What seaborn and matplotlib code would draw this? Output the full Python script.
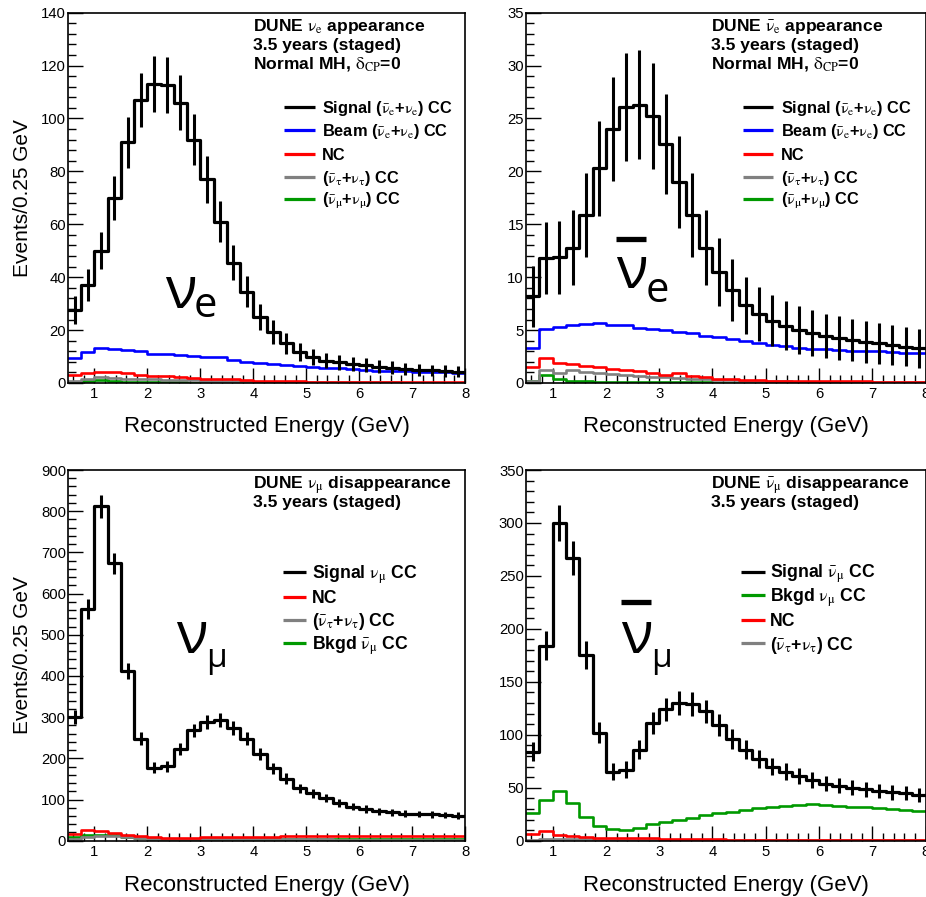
import numpy as np
import matplotlib
matplotlib.use("Agg")
import matplotlib.pyplot as plt
from matplotlib.lines import Line2D
from matplotlib.ticker import MultipleLocator
import seaborn as sns

# ---------------- data (events per 0.25 GeV bin, 0.5 - 8 GeV) ----------------
bin_lo, bin_hi, bin_w = 0.5, 8.0, 0.25

# nu_e appearance (top left)
sig_nue = [27.5, 37, 50, 70, 91, 107, 113, 112.5, 106, 92, 77, 61, 45.5, 34.5, 25,
           19.3, 15, 11.8, 9.8, 8.5, 7.8, 7.3, 6.7, 6.2, 5.8, 5.4, 5.0, 4.8, 4.5, 4.2]
beam_nue = [9.4, 11.9, 13.2, 12.9, 12.5, 12.0, 11.1, 11.0, 10.6, 10.1, 9.9, 9.7, 8.6, 8.1, 7.6,
            7.1, 6.7, 6.3, 6.1, 5.8, 5.5, 5.3, 4.9, 4.6, 4.5, 4.4, 4.3, 4.1, 4.0, 3.7]
nc_nue = [3.0, 3.9, 4.3, 4.0, 3.7, 3.2, 2.8, 2.6, 2.2, 1.9, 1.5, 1.4, 1.4, 1.2, 0.9,
          0.8, 0.7, 0.6, 0.55, 0.5, 0.45, 0.4, 0.4, 0.35, 0.3, 0.3, 0.3, 0.25, 0.25, 0.2]
tau_nue = [0.9, 1.7, 2.1, 1.9, 1.7, 1.5, 1.4, 1.3, 1.2, 1.0, 0.9, 0.8, 0.7, 0.6, 0.5,
           0.45, 0.4, 0.35, 0.3, 0.3, 0.25, 0.25, 0.2, 0.2, 0.2, 0.15, 0.15, 0.15, 0.1, 0.1]
numu_nue = [0.3, 0.8, 1.2, 0.7, 0.4, 0.3, 0.25, 0.2, 0.2, 0.15, 0.15, 0.1, 0.1, 0.1, 0.1,
            0.08, 0.08, 0.08, 0.06, 0.06, 0.06, 0.05, 0.05, 0.05, 0.05, 0.05, 0.04, 0.04, 0.04, 0.04]

# anti-nu_e appearance (top right)
sig_nuebar = [8.2, 11.8, 11.9, 12.8, 15.9, 20.3, 24.0, 26.1, 26.3, 25.2, 22.6, 19.0, 15.9, 12.8, 10.5,
              8.8, 7.35, 6.5, 5.9, 5.4, 5.0, 4.7, 4.45, 4.25, 4.05, 3.9, 3.75, 3.6, 3.43, 3.27]
beam_nuebar = [3.3, 5.1, 5.3, 5.5, 5.6, 5.65, 5.5, 5.45, 5.2, 5.1, 5.0, 4.85, 4.7, 4.4, 4.35,
               4.2, 3.95, 3.8, 3.6, 3.45, 3.35, 3.25, 3.2, 3.1, 3.05, 3.05, 3.0, 2.9, 2.85, 2.8]
nc_nuebar = [1.5, 2.4, 1.9, 1.8, 1.6, 1.5, 1.35, 1.25, 1.1, 0.9, 0.8, 0.95, 0.7, 0.55, 0.4,
             0.35, 0.25, 0.3, 0.2, 0.2, 0.2, 0.18, 0.18, 0.15, 0.15, 0.15, 0.12, 0.12, 0.1, 0.1]
tau_nuebar = [0.15, 1.2, 0.9, 1.2, 1.0, 0.9, 0.85, 0.75, 0.7, 0.6, 0.55, 0.5, 0.4, 0.35, 0.3,
              0.25, 0.2, 0.2, 0.15, 0.15, 0.12, 0.12, 0.1, 0.1, 0.1, 0.08, 0.08, 0.08, 0.06, 0.06]
numu_nuebar = [0.2, 0.75, 0.35, 0.2, 0.15, 0.1, 0.1, 0.08, 0.08, 0.06, 0.06, 0.05, 0.05, 0.05, 0.04,
               0.04, 0.04, 0.03, 0.03, 0.03, 0.03, 0.03, 0.02, 0.02, 0.02, 0.02, 0.02, 0.02, 0.02, 0.02]

# nu_mu disappearance (bottom left)
sig_numu = [301, 562, 812, 673, 412, 247, 177, 181, 223, 268, 289, 293, 273, 247, 210,
            176, 151, 127, 115, 103, 91, 83, 77, 72, 69, 66, 65, 64, 62, 61]
nc_numu = [17, 27, 23, 19, 15, 11, 8, 7, 7, 7, 8, 8, 9, 9, 10,
           10, 11, 11, 11, 12, 12, 12, 12, 12, 12, 12, 12, 12, 11, 11]
tau_numu = [4, 8, 12, 11, 8, 6, 4, 3, 3, 3, 3, 3, 3, 3, 3,
            3, 3, 3, 3, 3, 2, 2, 2, 2, 2, 2, 2, 2, 2, 2]
bkgd_numubar = [8, 13, 15, 13, 10, 6, 4, 3, 3, 3, 3, 4, 4, 4, 4,
                4, 4, 4, 4, 4, 4, 4, 4, 4, 3, 3, 3, 3, 3, 3]

# anti-nu_mu disappearance (bottom right)
sig_numubar = [84, 184, 300, 267, 175, 102, 65, 67, 86, 111, 124, 130, 129, 122, 109,
               96, 86, 77, 70, 65, 61, 57, 54, 52, 50, 48.5, 47, 45.6, 44.7, 43]
bkgd_numu = [26, 38, 47, 36, 22, 14, 11, 10.4, 12.3, 15.4, 18, 19.5, 21.7, 24, 26,
             27, 28.6, 30.5, 32, 33, 33.7, 34.3, 33.7, 33, 32, 31.5, 30.5, 29.6, 28.6, 28]
nc_numubar = [6, 9, 5, 4, 3.5, 3, 3, 2.5, 2.5, 2.5, 2, 2, 1.5, 1.5, 1.2,
              1, 1, 1, 1, 0.8, 0.8, 0.8, 0.7, 0.7, 0.6, 0.6, 0.6, 0.5, 0.5, 0.5]
tau_numubar = [0.5, 1.5, 2, 2, 1.5, 1, 1, 1, 1, 1, 0.8, 0.8, 0.8, 0.7, 0.7,
               0.6, 0.6, 0.6, 0.5, 0.5, 0.5, 0.5, 0.4, 0.4, 0.4, 0.4, 0.4, 0.3, 0.3, 0.3]

edges = np.arange(bin_lo, bin_hi + bin_w / 2, bin_w)
centers = 0.5 * (edges[:-1] + edges[1:])
edge_list = [float(e) for e in edges]

# ---------------- style ----------------
sns.set_theme(style="white")
plt.rcParams["font.family"] = ["Liberation Sans", "DejaVu Sans"]
plt.rcParams["mathtext.fontset"] = "stix"

BLACK, BLUE, RED, GREY, GREEN = "#000000", "#0000ff", "#ff0000", "#808080", "#009900"
BIG_FONT = ["Liberation Sans Narrow", "Open Sans", "DejaVu Sans"]

W, H = 926, 897
fig = plt.figure(figsize=(W / 100, H / 100), dpi=100)
fig.patch.set_facecolor("white")


def fx(px):
    return px / W


def fy(py):
    return 1 - py / H


def make_ax(x0, x1, y0, y1):
    ax = fig.add_axes([fx(x0), fy(y1), (x1 - x0) / W, (y1 - y0) / H])
    ax.set_facecolor("white")
    return ax


def hist(ax, vals, color, lw=1.9):
    sns.histplot(x=list(centers), weights=list(vals), bins=edge_list, element="step",
                 fill=False, color=color, linewidth=lw, ax=ax)


def signal(ax, vals):
    hist(ax, vals, BLACK, 2.3)
    v = np.asarray(vals, dtype=float)
    ax.errorbar(centers, v, yerr=np.sqrt(v), fmt="none", ecolor=BLACK,
                elinewidth=2.2, capsize=0, zorder=5)


def style(ax, ymax, major, minor, ylabel, xlab_y):
    ax.set_xlim(bin_lo, bin_hi)
    ax.set_ylim(0, ymax)
    ax.xaxis.set_major_locator(MultipleLocator(1))
    ax.xaxis.set_minor_locator(MultipleLocator(0.2))
    ax.yaxis.set_major_locator(MultipleLocator(major))
    ax.yaxis.set_minor_locator(MultipleLocator(minor))
    ax.tick_params(which="both", direction="in", top=False, right=False,
                   bottom=True, left=True, colors="black")
    ax.tick_params(which="major", length=11, width=1.0, labelsize=10.7)
    ax.tick_params(which="minor", length=5.5, width=1.0)
    ax.tick_params(axis="y", which="major", pad=1.5)
    ax.tick_params(axis="x", which="major", pad=3)
    for s in ax.spines.values():
        s.set_visible(True)
        s.set_linewidth(1.2)
        s.set_color("black")
    ax.set_xlabel("Reconstructed Energy (GeV)", fontsize=16, color="black")
    ax.xaxis.set_label_coords(0.5, xlab_y)
    if ylabel:
        ax.set_ylabel("Events/0.25 GeV", fontsize=15, color="black")
        ax.yaxis.set_label_coords(-0.0907, 0.5)
    else:
        ax.set_ylabel("")
    ax.grid(False)


def header(x, baselines, lines, fs=12.6):
    for b, t in zip(baselines, lines):
        fig.text(fx(x), fy(b), t, fontsize=fs, fontweight="bold", va="baseline",
                 ha="left", color="black")


def legend(entries, x0, x1, xt, rows, fs):
    em = fs / 0.72
    for (lab, col), y in zip(entries, rows):
        fig.add_artist(Line2D([fx(x0), fx(x1)], [fy(y), fy(y)], transform=fig.transFigure,
                              color=col, lw=2.3, solid_capstyle="butt"))
        fig.text(fx(xt), fy(y + 0.36 * em), lab, fontsize=fs, fontweight="bold",
                 va="baseline", ha="left", color="black")


def biglabel(x, base, sub, sub_x, sub_base, sub_fs, bar=None):
    fig.text(fx(x), fy(base), "ν", fontsize=42, family=BIG_FONT, va="baseline",
             ha="left", color="black")
    fig.text(fx(sub_x), fy(sub_base), sub, fontsize=sub_fs, family=BIG_FONT, va="baseline",
             ha="left", color="black")
    if bar is not None:
        bx0, bx1, by = bar
        fig.add_artist(Line2D([fx(bx0), fx(bx1)], [fy(by), fy(by)], transform=fig.transFigure,
                              color="black", lw=3.8, solid_capstyle="butt"))


NUE = r"$\mathrm{\nu_e}$"
NUEB = r"$\mathrm{\bar{\nu}_e}$"
lab_sig_e = r"Signal (" + NUEB + "+" + NUE + ") CC"
lab_beam_e = r"Beam (" + NUEB + "+" + NUE + ") CC"
lab_tau = r"($\mathrm{\bar{\nu}_\tau}$+$\mathrm{\nu_\tau}$) CC"
lab_mu = r"($\mathrm{\bar{\nu}_\mu}$+$\mathrm{\nu_\mu}$) CC"

# ---------------- top left ----------------
ax1 = make_ax(68, 465, 12.7, 383)
hist(ax1, numu_nue, GREEN)
hist(ax1, tau_nue, GREY)
hist(ax1, nc_nue, RED)
hist(ax1, beam_nue, BLUE)
signal(ax1, sig_nue)
style(ax1, 140, 20, 4, True, -0.089)
header(253, [30.8, 50, 68.5],
       [r"DUNE $\mathrm{\nu_e}$ appearance", "3.5 years (staged)",
        r"Normal MH, $\mathrm{\delta_{CP}}$=0"])
legend([(lab_sig_e, BLACK), (lab_beam_e, BLUE), ("NC", RED), (lab_tau, GREY), (lab_mu, GREEN)],
       284, 315, 322, [107, 130, 154, 177, 199.5], 11.8)
biglabel(165, 308, "e", 194, 317, 30)

# ---------------- top right ----------------
ax2 = make_ax(526, 925.5, 12.7, 383)
hist(ax2, numu_nuebar, GREEN)
hist(ax2, tau_nuebar, GREY)
hist(ax2, nc_nuebar, RED)
hist(ax2, beam_nuebar, BLUE)
signal(ax2, sig_nuebar)
style(ax2, 35, 5, 1, False, -0.089)
header(711, [30.8, 50, 68.5],
       [r"DUNE $\mathrm{\bar{\nu}_e}$ appearance", "3.5 years (staged)",
        r"Normal MH, $\mathrm{\delta_{CP}}$=0"])
legend([(lab_sig_e, BLACK), (lab_beam_e, BLUE), ("NC", RED), (lab_tau, GREY), (lab_mu, GREEN)],
       743, 773, 781, [107, 130, 154, 177, 199.5], 11.8)
biglabel(616, 288, "e", 646, 302, 30, bar=(616, 646, 239.5))

# ---------------- bottom left ----------------
ax3 = make_ax(68, 465, 470, 840.7)
hist(ax3, bkgd_numubar, GREEN)
hist(ax3, tau_numu, GREY)
hist(ax3, nc_numu, RED)
signal(ax3, sig_numu)
style(ax3, 900, 100, 20, True, -0.0925)
header(253, [488.5, 507], [r"DUNE $\mathrm{\nu_\mu}$ disappearance", "3.5 years (staged)"])
legend([(r"Signal $\mathrm{\nu_\mu}$ CC", BLACK), ("NC", RED), (lab_tau, GREY),
        (r"Bkgd $\mathrm{\bar{\nu}_\mu}$ CC", GREEN)],
       283, 306, 312, [572.3, 596.7, 620, 643.3], 12.7)
biglabel(176, 653, "μ", 206, 667, 24)

# ---------------- bottom right ----------------
ax4 = make_ax(526, 925.5, 470, 840.7)
hist(ax4, tau_numubar, GREY)
hist(ax4, nc_numubar, RED)
hist(ax4, bkgd_numu, GREEN)
signal(ax4, sig_numubar)
style(ax4, 350, 50, 10, False, -0.0925)
header(711, [488.5, 507], [r"DUNE $\mathrm{\bar{\nu}_\mu}$ disappearance", "3.5 years (staged)"])
legend([(r"Signal $\mathrm{\bar{\nu}_\mu}$ CC", BLACK), (r"Bkgd $\mathrm{\nu_\mu}$ CC", GREEN),
        ("NC", RED), (lab_tau, GREY)],
       741, 765, 770, [571.7, 595, 620, 643.3], 12.7)
biglabel(621, 653, "μ", 651, 667, 24, bar=(621, 651, 602))

fig.savefig("out.png", dpi=100, facecolor="white")
